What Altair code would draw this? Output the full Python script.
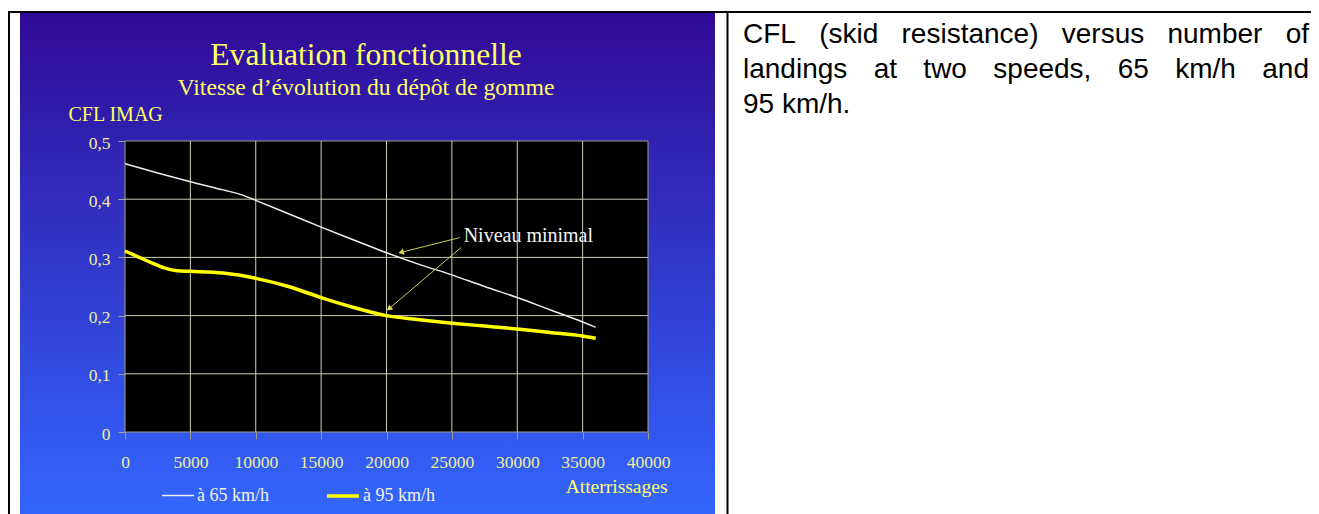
import math
import altair as alt
import pandas as pd

# ---------------- data ----------------
series_names = ["à 65 km/h", "à 95 km/h"]

landings_65 = [0, 2500, 5000, 7500, 9000, 10000, 12500, 15000, 17500, 20000,
               22500, 25000, 27500, 30000, 32500, 35000, 36000]
cfl_65 = [0.461, 0.445, 0.430, 0.416, 0.407, 0.398, 0.375, 0.352, 0.330, 0.308,
          0.288, 0.270, 0.250, 0.231, 0.210, 0.189, 0.180]

landings_95 = [0, 1000, 2000, 3000, 4000, 5000, 7500, 10000, 12500, 15000, 17500,
               20000, 22500, 25000, 27500, 30000, 32500, 35000, 36000]
cfl_95 = [0.311, 0.301, 0.291, 0.282, 0.277, 0.276, 0.273, 0.264, 0.250, 0.231, 0.214,
          0.200, 0.193, 0.187, 0.182, 0.177, 0.171, 0.165, 0.161]

x_ticks = [0, 5000, 10000, 15000, 20000, 25000, 30000, 35000, 40000]
y_ticks = [0, 0.1, 0.2, 0.3, 0.4, 0.5]

arrow_start_x = [25600, 25700]
arrow_start_y = [0.334, 0.317]
arrow_tip_x = [21000, 20100]
arrow_tip_y = [0.308, 0.210]
annotation_text = ["Niveau minimal"]
annotation_x = [25900]
annotation_y = [0.336]

title_text = "Evaluation fonctionnelle"
subtitle_text = "Vitesse d’évolution du dépôt de gomme"
y_title = "CFL IMAG"
x_title = "Atterrissages"
caption_lines = [
    "CFL (skid resistance) versus number of",
    "landings at two speeds, 65 km/h and",
    "95 km/h.",
]

# ---------------- layout / style ----------------
W, H = 523, 291
OX, OY = 125, 141          # page position of plot origin
SERIF = "Liberation Serif"
SANS = "Liberation Sans"
GRID = "#cdcdb8"
FRAME = "#a0a088"
WHITE_LINE = "#ececec"
YELLOW = "#ffff00"
ARROW = "#cccc55"
TITLE_C = "#ffff66"
TICK_C = "#eeee99"


def px(x):
    return x - OX


def py(y):
    return y - OY


one = pd.DataFrame({"k": [0]})

xscale = alt.Scale(domain=[0, 40000], nice=False, zero=False)
yscale = alt.Scale(domain=[0, 0.5], nice=False, zero=False)

xaxis = alt.Axis(values=x_ticks, format="d", grid=False, domain=False, ticks=True,
                 tickSize=7, tickColor=FRAME, labelFont=SERIF, labelFontSize=17.5,
                 labelColor=TICK_C, labelPadding=28, labelBaseline="alphabetic",
                 labelFlush=False, labelOverlap=False,
                 title=x_title, titleX=667 - OX, titleY=492 - (OY + H),
                 titleAlign="right", titleBaseline="alphabetic", titleFont=SERIF,
                 titleFontSize=19.5, titleFontWeight="normal", titleColor=TITLE_C, zindex=1)
yaxis = alt.Axis(values=y_ticks, grid=False, domain=False, ticks=True, tickSize=7,
                 tickColor=FRAME, labelFont=SERIF, labelFontSize=17.5, labelColor=TICK_C,
                 labelPadding=8, labelOffset=2, labelFlush=False, labelOverlap=False,
                 labelExpr="datum.value == 0 ? '0' : replace(format(datum.value, '.1f'), '.', ',')",
                 title=y_title, titleAngle=0, titleX=68 - OX, titleY=120 - OY,
                 titleAlign="left", titleBaseline="alphabetic", titleFont=SERIF,
                 titleFontSize=20, titleFontWeight="normal", titleColor=TITLE_C, zindex=1)


def X(field):
    return alt.X(field, scale=xscale, axis=xaxis)


def Y(field):
    return alt.Y(field, scale=yscale, axis=yaxis)


# slide background
slide = alt.Chart(one).mark_rect(
    fill={"gradient": "linear", "x1": 0, "y1": 0, "x2": 0, "y2": 1,
          "stops": [{"offset": 0, "color": "#300a96"}, {"offset": 1, "color": "#3366ff"}]}
).encode(x=alt.value(px(20)), x2=alt.value(px(715)), y=alt.value(py(13)), y2=alt.value(py(514)))

# black plot frame
frame_df = pd.DataFrame({"landings": [x_ticks[0]], "landings_end": [x_ticks[-1]],
                         "cfl": [y_ticks[0]], "cfl_end": [y_ticks[-1]]})
frame = alt.Chart(frame_df).mark_rect(fill="black", stroke=FRAME, strokeWidth=1).encode(
    x=X("landings:Q"), x2="landings_end:Q", y=Y("cfl:Q"), y2="cfl_end:Q",
)

vgrid = alt.Chart(pd.DataFrame({"landings": x_ticks[1:-1]})).mark_rule(
    color=GRID, strokeWidth=1).encode(x=X("landings:Q"))
hgrid = alt.Chart(pd.DataFrame({"cfl": y_ticks[1:-1]})).mark_rule(
    color=GRID, strokeWidth=1).encode(y=Y("cfl:Q"))

# data lines
lines_df = pd.concat([
    pd.DataFrame({"landings": landings_65, "cfl": cfl_65, "series": series_names[0]}),
    pd.DataFrame({"landings": landings_95, "cfl": cfl_95, "series": series_names[1]}),
])
legend = alt.Legend(orient="none", legendX=161 - OX, legendY=494 - 16 - OY, direction="horizontal",
                    symbolType="stroke", symbolSize=1024, labelFont=SERIF, labelFontSize=18,
                    labelColor="#f2f2dc", labelOffset=2, columnPadding=51, title=None,
                    padding=0, zindex=1)
lines = alt.Chart(lines_df).mark_line(interpolate="monotone").encode(
    x=X("landings:Q"),
    y=Y("cfl:Q"),
    color=alt.Color("series:N", scale=alt.Scale(domain=series_names, range=[WHITE_LINE, YELLOW]),
                    legend=legend),
    strokeWidth=alt.StrokeWidth("series:N", scale=alt.Scale(domain=series_names, range=[1.5, 3.5]),
                                legend=legend),
)

# arrows
arrow_df = pd.DataFrame({"landings": arrow_start_x, "cfl": arrow_start_y,
                         "landings_tip": arrow_tip_x, "cfl_tip": arrow_tip_y})
arrow_lines = alt.Chart(arrow_df).mark_rule(color=ARROW, strokeWidth=1).encode(
    x=X("landings:Q"), y=Y("cfl:Q"), x2="landings_tip:Q", y2="cfl_tip:Q",
)
heads = []
for sx, sy, tx, ty in zip(arrow_start_x, arrow_start_y, arrow_tip_x, arrow_tip_y):
    dxp = (tx - sx) / 40000 * W
    dyp = -(ty - sy) / 0.5 * H
    L = math.hypot(dxp, dyp)
    ang = math.degrees(math.atan2(dxp, -dyp)) % 360
    back = 2.5
    hx = tx - dxp / L * back / W * 40000
    hy = ty + dyp / L * back / H * 0.5
    heads.append({"landings": hx, "cfl": hy, "ang": ang})
head_layer = alt.Chart(pd.DataFrame(heads)).mark_point(
    shape="triangle", filled=True, size=40, color="#dddd55", opacity=1).encode(
    x=X("landings:Q"), y=Y("cfl:Q"), angle=alt.Angle("ang:Q", scale=None),
)
ann = alt.Chart(pd.DataFrame({"landings": annotation_x, "cfl": annotation_y, "t": annotation_text})).mark_text(
    align="left", baseline="middle", font=SERIF, fontSize=20, color="#f4f4f4").encode(
    x=X("landings:Q"), y=Y("cfl:Q"), text="t:N",
)


def label(text, x, y, size, color, font, align="left", baseline="alphabetic"):
    return alt.Chart(pd.DataFrame({"t": [text]})).mark_text(
        align=align, baseline=baseline, font=font, fontSize=size, color=color).encode(
        text="t:N", x=alt.value(px(x)), y=alt.value(py(y)))


title_l = label(title_text, 366, 65, 31.6, TITLE_C, SERIF, align="center")
subtitle_l = label(subtitle_text, 366, 95, 23.7, TITLE_C, SERIF, align="center")

# caption in the right cell (justified)
ARIAL = {' ': 278, '(': 333, ')': 333, ',': 278, '.': 278, '/': 278, '5': 556, '6': 556,
         '9': 556, 'C': 722, 'F': 611, 'L': 556, 'a': 556, 'b': 556, 'c': 500, 'd': 556,
         'e': 556, 'f': 278, 'g': 556, 'h': 556, 'i': 222, 'k': 500, 'l': 222, 'm': 833,
         'n': 556, 'o': 556, 'p': 556, 'r': 333, 's': 500, 't': 278, 'u': 556, 'v': 500,
         'w': 722}
CAP_SIZE = 28
CAP_X0, CAP_X1 = 743, 1309
CAP_Y0, CAP_DY = 43, 35


def tw(s):
    return sum(ARIAL.get(c, 556) for c in s) / 1000 * CAP_SIZE


caption_layers = []
for i, line in enumerate(caption_lines):
    base = CAP_Y0 + i * CAP_DY
    if i < len(caption_lines) - 1:
        words = line.split(" ")
        widths = [tw(w) for w in words]
        gap = (CAP_X1 - CAP_X0 - sum(widths)) / (len(words) - 1)
        x = CAP_X0
        for w, wd in zip(words, widths):
            caption_layers.append(label(w, x, base, CAP_SIZE, "black", SANS))
            x += wd + gap
    else:
        caption_layers.append(label(line, CAP_X0, base, CAP_SIZE, "black", SANS))


def hline(x1, x2, y, w=2):
    return alt.Chart(one).mark_rule(color="black", strokeWidth=w).encode(
        x=alt.value(px(x1)), x2=alt.value(px(x2)), y=alt.value(py(y)), y2=alt.value(py(y)))


def vline(x, y1, y2, w=2):
    return alt.Chart(one).mark_rule(color="black", strokeWidth=w).encode(
        x=alt.value(px(x)), x2=alt.value(px(x)), y=alt.value(py(y1)), y2=alt.value(py(y2)))


borders = [hline(8, 1311, 12), vline(9, 11, 514), vline(727.5, 11, 514)]

chart = alt.layer(
    slide, frame, vgrid, hgrid, lines, arrow_lines, head_layer, ann,
    title_l, subtitle_l, *caption_layers, *borders
).properties(
    width=W, height=H,
    padding={"left": 117, "top": 133, "right": 663, "bottom": 82},
    autosize=alt.AutoSizeParams(type="none"),
).configure(background="white").configure_view(stroke=None)

chart.save("out.html", embed_options={"renderer": "svg", "actions": False})
